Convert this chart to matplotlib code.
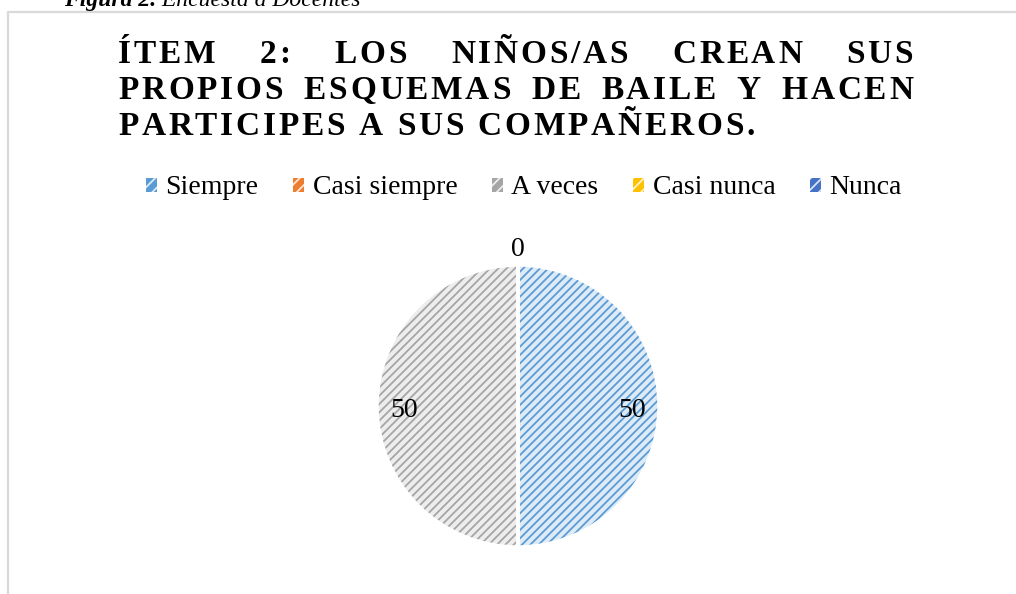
import matplotlib
matplotlib.use("Agg")
import matplotlib.pyplot as plt
from matplotlib import font_manager, ft2font
from matplotlib.patches import Patch
from matplotlib.lines import Line2D
import numpy as np

# data
categories = ["Siempre", "Casi siempre", "A veces", "Casi nunca", "Nunca"]
values = [50, 0, 50, 0, 0]
title_lines = ["ÍTEM 2: LOS NIÑOS/AS CREAN SUS",
               "PROPIOS ESQUEMAS DE BAILE Y HACEN",
               "PARTICIPES A SUS COMPAÑEROS."]
caption_bold = "Figura 2."
caption_rest = " Encuesta a Docentes"

# style
colors = ["#5B9BD5", "#ED7D31", "#A5A5A5", "#FFC000", "#4472C4"]
light = ["#DDEBF7", "#FBE5D6", "#EDEDED", "#FFF2CC", "#DAE3F3"]
show_label = [True, False, True, False, True]
serif = "Liberation Serif"

W, H, DPI = 1016, 594, 100
plt.rcParams["hatch.linewidth"] = 1.3
fig = plt.figure(figsize=(W / DPI, H / DPI), dpi=DPI)


def fx(px):
    return px / W


def fy(py):
    return 1 - py / H


# chart border (left + top)
fig.add_artist(Line2D([fx(8), fx(8), fx(W + 5)], [fy(H + 5), fy(12), fy(12)],
                      color="#D9D9D9", lw=1.6, transform=fig.transFigure))

# caption cut off at top (as in the source page)
cap = fig.text(fx(64), fy(6), caption_bold, fontsize=17, family=serif,
               style="italic", weight="bold", va="baseline", ha="left")
fig.canvas.draw()
bb = cap.get_window_extent()
fig.text(bb.x1 / W, fy(6), caption_rest, fontsize=17, family=serif,
         style="italic", va="baseline", ha="left")

# title with letter spacing (justified like excel)
title_fs = 24
fpath = font_manager.findfont(font_manager.FontProperties(family=serif, weight="bold"))
ftf = ft2font.FT2Font(fpath, hinting_factor=1)
ftf.set_size(title_fs, 72)


def adv(c):
    g = ftf.load_char(ord(c))
    return g.linearHoriAdvance / 65536 * DPI / 72


x_left, x_right = 118, 913
last = title_lines[2]
spacing = (755 - x_left - sum(adv(c) for c in last)) / (len(last) - 1)
baselines = [63, 99, 135]
for i, line in enumerate(title_lines):
    extra = 0
    nsp = line.count(" ")
    if i < 2:
        natural = sum(adv(c) for c in line) + spacing * (len(line) - 1)
        extra = (x_right - x_left - natural) / nsp
    x = x_left
    for c in line:
        if c != " ":
            fig.text(fx(x), fy(baselines[i]), c, fontsize=title_fs, family=serif,
                     weight="bold", va="baseline", ha="left")
        x += adv(c) + spacing
        if c == " ":
            x += extra

# legend
handles = [Patch(facecolor=colors[i], edgecolor=light[i], hatch="///", lw=0)
           for i in range(len(categories))]
fig.legend(handles, categories, loc="center", bbox_to_anchor=(fx(524), fy(188)),
           ncol=5, frameon=False, prop={"family": serif, "size": 20},
           handlelength=0.4, handleheight=0.4, handletextpad=0.3,
           columnspacing=1.25, borderpad=0, borderaxespad=0)

# pie
cx, cy, r = 518, 406, 141
half = 200
ax = fig.add_axes([fx(cx - half), fy(cy + half), 2 * half / W, 2 * half / H])
wedges, _ = ax.pie(values, colors=light, startangle=90, counterclock=False,
                   wedgeprops={"lw": 0})
for w, col in zip(wedges, colors):
    w.set_hatch("////")
    w.set_edgecolor(col)
    w.set_linewidth(0)
ax.pie(values, colors=["none"] * len(values), startangle=90, counterclock=False,
       wedgeprops={"lw": 2.5, "edgecolor": "white"})

for i, w in enumerate(wedges):
    if not show_label[i]:
        continue
    ang = np.deg2rad((w.theta1 + w.theta2) / 2)
    rr = 0.81 if values[i] > 0 else 1.14
    ax.text(rr * np.cos(ang), rr * np.sin(ang) - 0.03, str(values[i]), ha="center",
            va="center", fontsize=20, family=serif)

lim = half / r
ax.set_xlim(-lim, lim)
ax.set_ylim(-lim, lim)
ax.set_aspect("auto")
ax.axis("off")

fig.savefig("out.png", dpi=DPI)
